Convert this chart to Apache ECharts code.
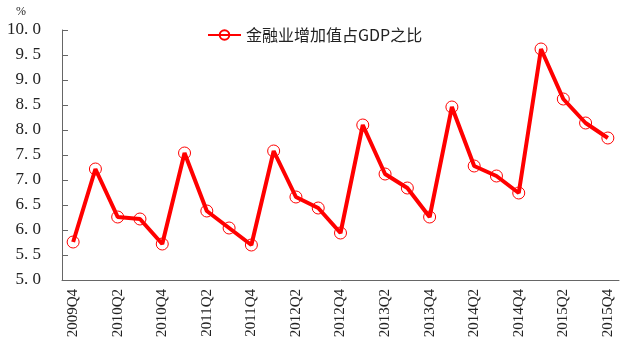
<!DOCTYPE html>
<html>
<head>
<meta charset="utf-8">
<script src="https://cdn.jsdelivr.net/npm/echarts@6/dist/echarts.min.js"></script>
<style>
html,body{margin:0;padding:0;background:#fff;}
#main{width:640px;height:354px;}
</style>
</head>
<body>
<div id="main"></div>
<script>
var quarters = ["2009Q4","2010Q1","2010Q2","2010Q3","2010Q4","2011Q1","2011Q2","2011Q3","2011Q4",
	"2012Q1","2012Q2","2012Q3","2012Q4","2013Q1","2013Q2","2013Q3","2013Q4",
	"2014Q1","2014Q2","2014Q3","2014Q4","2015Q1","2015Q2","2015Q3","2015Q4"];
var ratio = [5.76,7.22,6.26,6.22,5.72,7.54,6.38,6.04,5.70,
	7.58,6.66,6.44,5.94,8.10,7.12,6.84,6.26,
	8.46,7.28,7.08,6.74,9.62,8.62,8.14,7.84];
var seriesName = "金融业增加值占GDP之比";

var chart = echarts.init(document.getElementById("main"));
var serif = "'Liberation Serif','DejaVu Serif',serif";
chart.setOption({
	animation: false,
	legend: {
		data: [seriesName],
		left: 202,
		top: 22,
		itemWidth: 33,
		itemHeight: 12,
		itemGap: 4,
		textStyle: {fontFamily: "'Noto Sans CJK SC'", fontSize: 16, color: "#222"}
	},
	grid: {left: 62, right: 21, top: 30, bottom: 74},
	xAxis: {
		type: "category",
		data: quarters,
		boundaryGap: true,
		axisLine: {lineStyle: {color: "#666"}},
		axisTick: {inside: true, interval: 0, length: 6, lineStyle: {color: "#666"}},
		axisLabel: {interval: 1, rotate: 90, color: "#222", fontFamily: serif, fontSize: 15, margin: 9},
		splitLine: {show: false}
	},
	yAxis: {
		type: "value",
		min: 5,
		max: 10,
		interval: 0.5,
		name: "%",
		nameLocation: "end",
		nameGap: 12,
		nameTextStyle: {color: "#222", fontFamily: serif, fontSize: 12, align: "right", padding: [0, 36, 0, 0]},
		axisLine: {show: true, lineStyle: {color: "#666"}},
		axisTick: {show: true, inside: true, length: 6, lineStyle: {color: "#666"}},
		axisLabel: {
			color: "#222", fontFamily: serif, fontSize: 17, margin: 21,
			formatter: function (v) { return v.toFixed(1).replace(".", ". "); }
		},
		splitLine: {show: false}
	},
	series: [{
		name: seriesName,
		type: "line",
		data: ratio,
		symbol: "circle",
		symbolSize: 12,
		lineStyle: {color: "#ff0000", width: 4},
		itemStyle: {color: "rgba(255,255,255,0)", borderColor: "#ff0000", borderWidth: 1}
	}]
});
</script>
</body>
</html>
